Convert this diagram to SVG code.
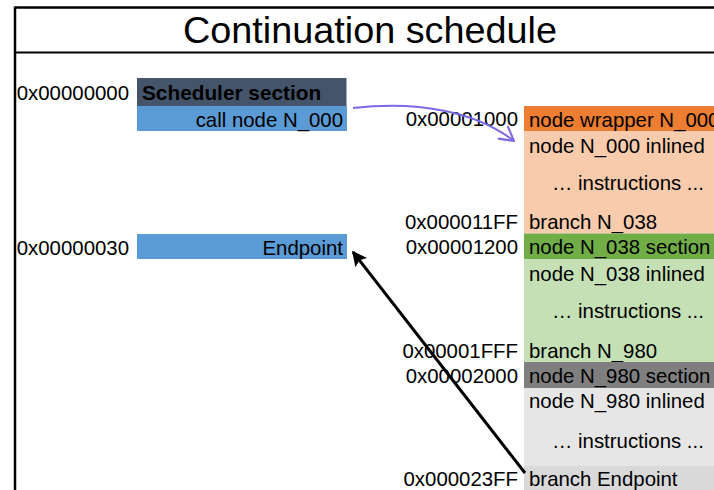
<svg xmlns="http://www.w3.org/2000/svg" width="714" height="490" viewBox="0 0 714 490">
  <defs>
    <style>
      text { font-family: "Liberation Sans", Arial, sans-serif; font-size: 20.4px; fill: #000; }
      .title { font-size: 37.8px; text-anchor: middle; }
      .addr { text-anchor: end; }
      .bold { font-weight: bold; font-size: 20.8px; }
      .end { text-anchor: end; }
      .frame { stroke: #000; fill: none; }
    </style>
    <marker id="headBlack" viewBox="0 0 10 10" refX="9" refY="5" markerWidth="6" markerHeight="5" orient="auto" markerUnits="strokeWidth">
      <path d="M0,0 L10,5 L0,10 L2,5 z" fill="#000"/>
    </marker>
    <marker id="headPurple" viewBox="0 0 12 12" refX="10" refY="6" markerWidth="9" markerHeight="9" orient="auto" markerUnits="strokeWidth">
      <path d="M1,1 L10,6 L1,11" fill="none" stroke="#7b6ae6" stroke-width="1.4" stroke-linecap="round" stroke-linejoin="round"/>
    </marker>
  </defs>

  <rect x="0" y="0" width="714" height="490" fill="#fff"/>

  <!-- frame and title -->
  <g id="frame">
    <line class="frame" x1="15" y1="7.5" x2="714" y2="7.5" stroke-width="2.5"/>
    <line class="frame" x1="15" y1="6.5" x2="15" y2="490" stroke-width="2.5"/>
    <line class="frame" x1="15" y1="52.5" x2="714" y2="52.5" stroke-width="1.8"/>
    <text class="title" x="370" y="43">Continuation schedule</text>
  </g>

  <!-- scheduler section -->
  <g id="scheduler">
    <rect x="137" y="78" width="209.5" height="28" fill="#44546a"/>
    <text class="bold" x="142" y="100">Scheduler section</text>
    <text class="addr" x="129" y="100">0x00000000</text>
  </g>
  <g id="call-node">
    <rect x="137" y="106" width="210" height="25" fill="#5b9bd5"/>
    <text class="end" x="343" y="127">call node N_000</text>
  </g>
  <g id="endpoint">
    <rect x="137" y="234" width="210" height="25" fill="#5b9bd5"/>
    <text class="end" x="343" y="255">Endpoint</text>
    <text class="addr" x="129" y="255">0x00000030</text>
  </g>

  <!-- node N_000 -->
  <g id="node-n000">
    <rect x="524" y="106" width="200" height="25" fill="#ed7d31"/>
    <rect x="524" y="131" width="200" height="102.5" fill="#f8cbad"/>
    <text x="529" y="127">node wrapper N_000</text>
    <text x="529" y="153">node N_000 inlined</text>
    <text x="552" y="190">… instructions ...</text>
    <text x="529" y="229">branch N_038</text>
    <text class="addr" x="518" y="126">0x00001000</text>
    <text class="addr" x="518" y="229">0x000011FF</text>
  </g>

  <!-- node N_038 -->
  <g id="node-n038">
    <rect x="524" y="233.5" width="200" height="25.5" fill="#70ad47"/>
    <rect x="524" y="259" width="200" height="103" fill="#c5e0b4"/>
    <text x="529" y="254">node N_038 section</text>
    <text x="529" y="281">node N_038 inlined</text>
    <text x="552" y="318">… instructions ...</text>
    <text x="529" y="358">branch N_980</text>
    <text class="addr" x="518" y="254">0x00001200</text>
    <text class="addr" x="518" y="358">0x00001FFF</text>
  </g>

  <!-- node N_980 -->
  <g id="node-n980">
    <rect x="524" y="362" width="200" height="26" fill="#7f7f7f"/>
    <rect x="524" y="388" width="200" height="78" fill="#e7e6e6"/>
    <rect x="524" y="466" width="200" height="24" fill="#d9d9d9"/>
    <text x="529" y="383">node N_980 section</text>
    <text x="529" y="408">node N_980 inlined</text>
    <text x="552" y="448">… instructions ...</text>
    <text x="529" y="486">branch Endpoint</text>
    <text class="addr" x="518" y="383">0x00002000</text>
    <text class="addr" x="518" y="486">0x000023FF</text>
  </g>

  <!-- connectors -->
  <g id="connectors">
    <path d="M353,108 C420,100 478,113 514,141" fill="none" stroke="#7b6ae6" stroke-width="2" marker-end="url(#headPurple)"/>
    <line x1="525" y1="473" x2="353" y2="252" stroke="#000" stroke-width="3" marker-end="url(#headBlack)"/>
  </g>
</svg>
